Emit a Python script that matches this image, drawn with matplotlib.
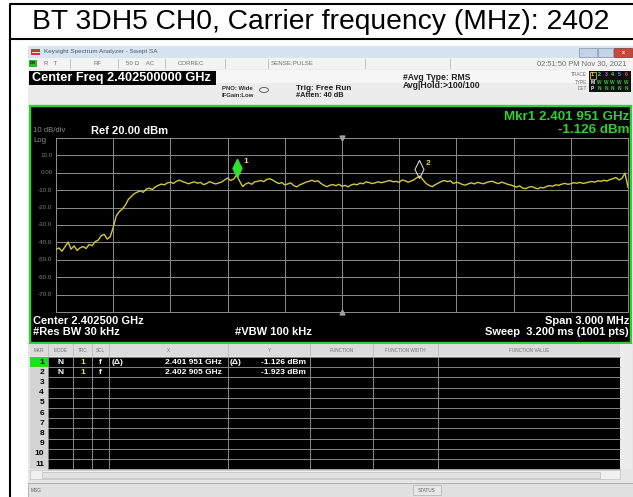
import numpy as np
import matplotlib.pyplot as plt
from matplotlib.patches import Rectangle, Ellipse
from matplotlib import transforms

plt.rcParams['font.family'] = ['Liberation Sans', 'DejaVu Sans']

# ---------------------------------------------------------
# Data
# ---------------------------------------------------------
TITLE = "BT 3DH5 CH0, Carrier frequency (MHz): 2402"
START_MHZ = 2401.0
STOP_MHZ = 2404.0
CENTER_MHZ = 2402.5
REF_DBM = 20.0
BOTTOM_DBM = -80.0

# trace level (dBm), evenly spaced points across the 3 MHz span
TRACE_DBM = [
    -44.0, -43.2, -45.1, -42.5, -39.8, -43.9, -42.0, -44.6, -43.1, -42.4,
    -43.5, -41.2, -41.9, -39.6, -38.7, -36.2, -35.4, -38.1, -36.8, -31.5,
    -24.8, -22.3, -20.9, -18.7, -15.4, -13.6, -12.0, -11.1, -10.4, -11.2,
    -9.3, -8.9, -9.6, -8.1, -7.2, -6.5, -6.9, -5.8, -5.4, -6.1,
    -4.9, -4.2, -5.0, -5.6, -6.3, -5.7, -5.2, -6.0, -5.5, -6.8,
    -6.2, -5.1, -5.8, -6.4, -5.9, -5.3, -4.1, -3.0, -4.4, -3.6,
    -1.3, -4.8, -7.9, -6.4, -5.7, -6.6, -5.2, -4.9, -4.4, -5.1,
    -3.8, -3.4, -4.2, -5.3, -6.2, -5.6, -7.0, -6.4, -5.8, -7.4,
    -8.1, -6.9, -6.2, -5.4, -4.9, -4.3, -5.0, -4.6, -6.1, -7.2,
    -8.0, -7.1, -6.8, -7.4, -6.6, -7.8, -7.2, -8.1, -7.0, -6.5,
    -6.9, -5.9, -6.3, -5.2, -5.6, -6.2, -5.8, -5.1, -5.7, -5.3,
    -4.8, -4.4, -5.2, -4.9, -5.5, -4.1, -4.6, -5.4, -4.7, -3.9,
    -2.6, -1.9, -4.3, -6.2, -7.3, -8.0, -6.8, -5.9, -5.0, -4.4,
    -5.1, -4.6, -6.2, -5.4, -5.9, -6.7, -7.1, -6.3, -5.8, -6.4,
    -5.5, -5.9, -6.3, -5.6, -5.1, -4.9, -5.7, -6.2, -5.4, -5.9,
    -6.6, -7.0, -7.6, -8.2, -7.5, -8.8, -9.1, -8.3, -7.9, -8.6,
    -9.2, -8.4, -8.7, -7.8, -7.4, -7.7, -6.9, -7.2, -6.5, -6.1,
    -6.6, -6.3, -5.7, -6.0, -5.5, -6.1, -5.8, -5.3, -5.0, -5.4,
    -4.6, -4.9, -4.3, -4.7, -3.9, -3.4, -2.7, -4.1, -3.2, -0.2,
    -8.3,
]

MARKER_FREQ = [2401.951, 2402.905]
MARKER_DBM = [-1.126, -1.923]
MARKER_X_TEXT = ["2.401 951 GHz", "2.402 905 GHz"]
MARKER_Y_TEXT = ["-1.126 dBm", "-1.923 dBm"]

YTICK_VALUES = [10, 0, -10, -20, -30, -40, -50, -60, -70]
YTICK_LABELS = ["10.0", "0.00", "-10.0", "-20.0", "-30.0", "-40.0", "-50.0", "-60.0", "-70.0"]

TABLE_HEADERS = ["MKR", "MODE", "TRC", "SCL", "X", "Y", "FUNCTION", "FUNCTION WIDTH", "FUNCTION VALUE"]
TABLE_COLS = [30, 48, 73, 92, 109, 228, 310, 373, 438, 620]

W, H = 633, 497
GREEN = '#2ed12e'
TRACE_YELLOW = '#d2c83c'


def main():
    fig = plt.figure(figsize=(W / 100, H / 100), dpi=100)
    bg = fig.add_axes([0, 0, 1, 1])
    bg.set_xlim(0, W)
    bg.set_ylim(H, 0)
    bg.axis('off')

    def box(x0, y0, x1, y1, fc, ec='none', lw=0, z=1):
        bg.add_patch(Rectangle((x0, y0), x1 - x0, y1 - y0, facecolor=fc,
                               edgecolor=ec, linewidth=lw, zorder=z))

    def txt(x, y, s, size=5, color='white', weight='bold', ha='left', z=5):
        bg.text(x, y, s, fontsize=size, color=color, fontweight=weight,
                ha=ha, va='center', zorder=z)

    # outer frame + title
    bg.plot([10, 10, 640], [500, 4, 4], color='black', lw=1.5, zorder=2)
    bg.plot([10, 640], [39, 39], color='black', lw=1.5, zorder=2)
    txt(321, 22, TITLE, size=20.3, color='black', weight='normal', ha='center')

    # window title bar
    box(28, 46, 633, 58, '#d6e3f0')
    box(31, 49, 40, 55, '#c03a30')
    bg.plot([32, 39], [52, 52], color='white', lw=0.6, zorder=3)
    txt(44, 52, "Keysight Spectrum Analyzer - Swept SA", size=4.6, color='#4a5a6a', weight='normal')
    box(579, 48, 597, 56.5, '#c4d4e6', ec='#8094aa', lw=0.5, z=2)
    box(598, 48, 613, 56.5, '#c4d4e6', ec='#8094aa', lw=0.5, z=2)
    box(614, 48, 632, 56.5, '#c8483a', ec='#8a3028', lw=0.5, z=2)
    txt(623, 52, "x", size=4, color='white', ha='center')

    # status row
    box(28, 58, 633, 69, '#f3f3f3')
    box(29, 60, 37, 67, '#28b828')
    txt(30, 63.5, "LXI", size=2.6, color='black')
    for xd in [70, 118, 165, 225, 268, 365, 450]:
        bg.plot([xd, xd], [59, 68], color='#b0b0b0', lw=0.5, zorder=2)
    txt(44, 63.5, "R   T", size=4.4, color='#707070', weight='normal')
    txt(94, 63.5, "RF", size=4.4, color='#707070', weight='normal')
    txt(126, 63.5, "50 Ω    AC", size=4.4, color='#707070', weight='normal')
    txt(178, 63.5, "CORREC", size=4.4, color='#707070', weight='normal')
    txt(271, 63.5, "SENSE:PULSE", size=4.4, color='#707070', weight='normal')
    txt(626, 63.5, "02:51:50 PM Nov 30, 2021", size=5.4, color='#707070', weight='normal', ha='right')

    # settings panel
    box(28, 69, 633, 106, '#ececec')
    box(213, 70, 633, 83, '#f6f6f6')
    box(29, 71, 216, 85, 'black', z=2)
    txt(32, 78, "Center Freq 2.402500000 GHz", size=9.2, color='white')
    txt(222, 88, "PNO: Wide", size=4.3, color='#303030')
    txt(222, 95.5, "IFGain:Low", size=4.3, color='#303030')
    bg.add_patch(Ellipse((264, 90), 9, 5, facecolor='none', edgecolor='#505050', lw=0.6, zorder=3))
    txt(296, 88, "Trig: Free Run", size=5.9, color='#202020')
    txt(296, 95.5, "#Atten: 40 dB", size=5.3, color='#202020')
    txt(403, 78, "#Avg Type: RMS", size=6.2, color='#202020')
    txt(403, 85.5, "Avg|Hold:>100/100", size=6.2, color='#202020')

    # trace indicator block
    box(589, 71, 631, 92, '#101010', z=2)
    txt(587, 75, "TRACE", size=3.4, color='#707070', weight='normal', ha='right')
    txt(587, 82, "TYPE", size=3.4, color='#707070', weight='normal', ha='right')
    txt(587, 89, "DET", size=3.4, color='#707070', weight='normal', ha='right')
    trace_colors = ['#e8e040', '#40d8e0', '#e050e0', '#50e050', '#7070ff', '#f05050']
    for k, c in enumerate(trace_colors):
        cx = 592.5 + k * 6.7
        txt(cx, 75, str(k + 1), size=3.8, color=c, ha='center')
        txt(cx, 82, "M" if k == 0 else "W", size=3.4, color='white' if k == 0 else '#40c040', ha='center')
        txt(cx, 89, "P" if k == 0 else "N", size=3.4, color='white' if k == 0 else '#40c040', ha='center')
    box(589.5, 71.5, 596, 78.5, 'none', ec='#e8e040', lw=0.5, z=3)

    # green measurement frame
    box(30, 106, 631, 343, 'black', ec=GREEN, lw=1.7, z=2)
    txt(33, 130.5, "10 dB/div", size=5.6, color='#8a8a8a', weight='normal')
    txt(33, 141, "Log", size=5.6, color='#8a8a8a', weight='normal')
    txt(91, 130.5, "Ref 20.00 dBm", size=8, color='white')
    txt(629, 117, "Mkr1 2.401 951 GHz", size=9.6, color=GREEN, ha='right')
    txt(629, 130, "-1.126 dBm", size=9.6, color=GREEN, ha='right')
    txt(33, 321, "Center 2.402500 GHz", size=8, color='white')
    txt(33, 332, "#Res BW 30 kHz", size=8, color='white')
    txt(235, 332, "#VBW 100 kHz", size=8, color='white')
    txt(629, 321, "Span 3.000 MHz", size=8, color='white', ha='right')
    txt(629, 332, "Sweep  3.200 ms (1001 pts)", size=8, color='white', ha='right')

    # spectrum trace
    ax = fig.add_axes([56 / W, 1 - 312 / H, 572 / W, 174 / H])
    ax.set_facecolor('black')
    ax.set_xlim(START_MHZ, STOP_MHZ)
    ax.set_ylim(BOTTOM_DBM, REF_DBM)
    ax.set_xticks(np.linspace(START_MHZ, STOP_MHZ, 11))
    ax.set_yticks(np.arange(BOTTOM_DBM, REF_DBM + 1, 10))
    ax.tick_params(length=0, labelbottom=False, labelleft=False)
    ax.grid(color='#8c8c8c', lw=0.7)
    for sp in ax.spines.values():
        sp.set_color('#8c8c8c')
        sp.set_linewidth(0.7)

    freqs = np.linspace(START_MHZ, STOP_MHZ, len(TRACE_DBM))
    ax.plot(freqs, TRACE_DBM, color=TRACE_YELLOW, lw=1.0, zorder=3)

    # center indicators on top / bottom edge
    ax.plot([CENTER_MHZ], [REF_DBM], marker='v', ms=3.5, color='#a0a0a0', clip_on=False, zorder=4)
    ax.plot([CENTER_MHZ], [BOTTOM_DBM], marker='^', ms=3.5, color='#a0a0a0', clip_on=False, zorder=4)

    # markers sit just above the trace point
    up = transforms.offset_copy(ax.transData, fig=fig, x=0, y=7, units='dots')
    lab = transforms.offset_copy(ax.transData, fig=fig, x=6, y=13, units='dots')
    diamond = [(0, 1), (0.5, 0), (0, -1), (-0.5, 0), (0, 1)]
    ax.plot([MARKER_FREQ[0]], [MARKER_DBM[0]], marker=diamond, ms=13, color='#30e030',
            mec='#30e030', transform=up, zorder=5, clip_on=False)
    ax.plot([MARKER_FREQ[1]], [MARKER_DBM[1]], marker=diamond, ms=13, mfc='none',
            mec='#d8d8d8', mew=0.8, transform=up, zorder=5, clip_on=False)
    for k in range(2):
        ax.text(MARKER_FREQ[k], MARKER_DBM[k], str(k + 1), transform=lab, color='#e8e040',
                fontsize=6, fontweight='bold', ha='left', va='center', zorder=6)

    ylab = transforms.blended_transform_factory(ax.transAxes, ax.transData)
    for v, s in zip(YTICK_VALUES, YTICK_LABELS):
        ax.text(-0.006, v, s, transform=ylab, color='#808080', fontsize=4.5,
                ha='right', va='center', clip_on=False)

    # marker table
    box(28, 343, 633, 484, '#e6e6e6', z=1)
    box(30, 344, 620, 356, '#dcdcdc', z=2)
    for k, name in enumerate(TABLE_HEADERS):
        cx = (TABLE_COLS[k] + TABLE_COLS[k + 1]) / 2
        txt(cx, 350, name, size=3.3, color='#707070', weight='normal', ha='center')
    for xd in TABLE_COLS[1:-1]:
        bg.plot([xd, xd], [344, 356], color='#b8b8b8', lw=0.5, zorder=3)

    row_top, row_h, n_rows = 357, 10.2, 11
    row_bottom = row_top + row_h * n_rows
    box(48, row_top, 620, row_bottom, 'black', z=2)
    box(30, row_top, 48, row_bottom, '#d4d4d4', z=2)
    for r in range(n_rows + 1):
        yy = row_top + r * row_h
        bg.plot([48, 620], [yy, yy], color='#9a9a9a', lw=0.6, zorder=3)
    for xd in TABLE_COLS[1:-1]:
        bg.plot([xd, xd], [row_top, row_bottom], color='#9a9a9a', lw=0.6, zorder=3)
    box(30, row_top, 48, row_top + row_h, '#22dd22', z=3)
    for r in range(n_rows):
        yc = row_top + (r + 0.5) * row_h
        txt(44, yc, str(r + 1), size=6, color='black', ha='right')

    for k in range(len(MARKER_FREQ)):
        yc = row_top + (k + 0.5) * row_h
        txt(60.5, yc, "N", size=6, ha='center')
        txt(82.5, yc, "1", size=6, color='#e8e040', ha='center')
        txt(100, yc, "f", size=6, ha='center')
        txt(222, yc, MARKER_X_TEXT[k], size=6, ha='right')
        txt(306, yc, MARKER_Y_TEXT[k], size=6, ha='right')
    txt(112, row_top + 0.5 * row_h, "(Δ)", size=6)
    txt(230, row_top + 0.5 * row_h, "(Δ)", size=6)

    # scrollbars + status bar
    box(620, 344, 632, row_bottom, '#ececec', z=2)
    box(30, row_bottom + 1, 620, row_bottom + 10, '#f0f0f0', ec='#c0c0c0', lw=0.5, z=2)
    box(42, row_bottom + 2.5, 600, row_bottom + 8.5, '#e2e2e2', ec='#b0b0b0', lw=0.4, z=3)
    box(28, 483, 633, 497, '#e0e0e0', ec='#a8a8a8', lw=0.6, z=2)
    txt(31, 490, "MSG", size=3.4, color='#606060', weight='normal')
    box(413, 485, 441, 495, '#e8e8e8', ec='#b0b0b0', lw=0.5, z=3)
    txt(427, 490, "STATUS", size=3.4, color='#606060', weight='normal', ha='center')

    fig.savefig('out.png', dpi=100)
    plt.close(fig)


if __name__ == "__main__":
    main()
